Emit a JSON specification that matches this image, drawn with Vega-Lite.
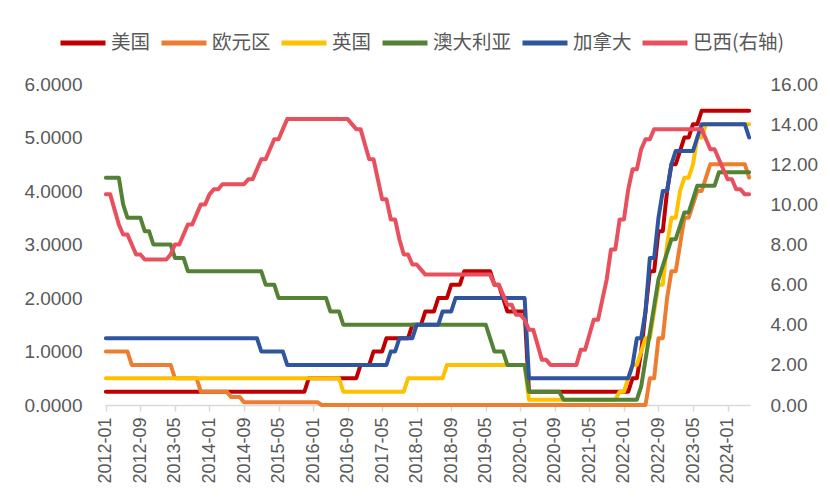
{
  "$schema": "https://vega.github.io/schema/vega-lite/v6.json",
  "width": 645,
  "height": 321,
  "autosize": "none",
  "padding": {"left": 105, "top": 84, "right": 80, "bottom": 98},
  "background": "white",
  "data": {
    "values": [
      {"m":"2012-01","US":0.25,"EU":1,"UK":0.5,"AU":4.25,"CA":1.25,"BR":10.5},
      {"m":"2012-02","US":0.25,"EU":1,"UK":0.5,"AU":4.25,"CA":1.25,"BR":10.5},
      {"m":"2012-03","US":0.25,"EU":1,"UK":0.5,"AU":4.25,"CA":1.25,"BR":9.75},
      {"m":"2012-04","US":0.25,"EU":1,"UK":0.5,"AU":4.25,"CA":1.25,"BR":9},
      {"m":"2012-05","US":0.25,"EU":1,"UK":0.5,"AU":3.75,"CA":1.25,"BR":8.5},
      {"m":"2012-06","US":0.25,"EU":1,"UK":0.5,"AU":3.5,"CA":1.25,"BR":8.5},
      {"m":"2012-07","US":0.25,"EU":0.75,"UK":0.5,"AU":3.5,"CA":1.25,"BR":8},
      {"m":"2012-08","US":0.25,"EU":0.75,"UK":0.5,"AU":3.5,"CA":1.25,"BR":7.5},
      {"m":"2012-09","US":0.25,"EU":0.75,"UK":0.5,"AU":3.5,"CA":1.25,"BR":7.5},
      {"m":"2012-10","US":0.25,"EU":0.75,"UK":0.5,"AU":3.25,"CA":1.25,"BR":7.25},
      {"m":"2012-11","US":0.25,"EU":0.75,"UK":0.5,"AU":3.25,"CA":1.25,"BR":7.25},
      {"m":"2012-12","US":0.25,"EU":0.75,"UK":0.5,"AU":3,"CA":1.25,"BR":7.25},
      {"m":"2013-01","US":0.25,"EU":0.75,"UK":0.5,"AU":3,"CA":1.25,"BR":7.25},
      {"m":"2013-02","US":0.25,"EU":0.75,"UK":0.5,"AU":3,"CA":1.25,"BR":7.25},
      {"m":"2013-03","US":0.25,"EU":0.75,"UK":0.5,"AU":3,"CA":1.25,"BR":7.25},
      {"m":"2013-04","US":0.25,"EU":0.75,"UK":0.5,"AU":3,"CA":1.25,"BR":7.5},
      {"m":"2013-05","US":0.25,"EU":0.5,"UK":0.5,"AU":2.75,"CA":1.25,"BR":8},
      {"m":"2013-06","US":0.25,"EU":0.5,"UK":0.5,"AU":2.75,"CA":1.25,"BR":8},
      {"m":"2013-07","US":0.25,"EU":0.5,"UK":0.5,"AU":2.75,"CA":1.25,"BR":8.5},
      {"m":"2013-08","US":0.25,"EU":0.5,"UK":0.5,"AU":2.5,"CA":1.25,"BR":9},
      {"m":"2013-09","US":0.25,"EU":0.5,"UK":0.5,"AU":2.5,"CA":1.25,"BR":9},
      {"m":"2013-10","US":0.25,"EU":0.5,"UK":0.5,"AU":2.5,"CA":1.25,"BR":9.5},
      {"m":"2013-11","US":0.25,"EU":0.25,"UK":0.5,"AU":2.5,"CA":1.25,"BR":10},
      {"m":"2013-12","US":0.25,"EU":0.25,"UK":0.5,"AU":2.5,"CA":1.25,"BR":10},
      {"m":"2014-01","US":0.25,"EU":0.25,"UK":0.5,"AU":2.5,"CA":1.25,"BR":10.5},
      {"m":"2014-02","US":0.25,"EU":0.25,"UK":0.5,"AU":2.5,"CA":1.25,"BR":10.75},
      {"m":"2014-03","US":0.25,"EU":0.25,"UK":0.5,"AU":2.5,"CA":1.25,"BR":10.75},
      {"m":"2014-04","US":0.25,"EU":0.25,"UK":0.5,"AU":2.5,"CA":1.25,"BR":11},
      {"m":"2014-05","US":0.25,"EU":0.25,"UK":0.5,"AU":2.5,"CA":1.25,"BR":11},
      {"m":"2014-06","US":0.25,"EU":0.15,"UK":0.5,"AU":2.5,"CA":1.25,"BR":11},
      {"m":"2014-07","US":0.25,"EU":0.15,"UK":0.5,"AU":2.5,"CA":1.25,"BR":11},
      {"m":"2014-08","US":0.25,"EU":0.15,"UK":0.5,"AU":2.5,"CA":1.25,"BR":11},
      {"m":"2014-09","US":0.25,"EU":0.05,"UK":0.5,"AU":2.5,"CA":1.25,"BR":11},
      {"m":"2014-10","US":0.25,"EU":0.05,"UK":0.5,"AU":2.5,"CA":1.25,"BR":11.25},
      {"m":"2014-11","US":0.25,"EU":0.05,"UK":0.5,"AU":2.5,"CA":1.25,"BR":11.25},
      {"m":"2014-12","US":0.25,"EU":0.05,"UK":0.5,"AU":2.5,"CA":1.25,"BR":11.75},
      {"m":"2015-01","US":0.25,"EU":0.05,"UK":0.5,"AU":2.5,"CA":1,"BR":12.25},
      {"m":"2015-02","US":0.25,"EU":0.05,"UK":0.5,"AU":2.25,"CA":1,"BR":12.25},
      {"m":"2015-03","US":0.25,"EU":0.05,"UK":0.5,"AU":2.25,"CA":1,"BR":12.75},
      {"m":"2015-04","US":0.25,"EU":0.05,"UK":0.5,"AU":2.25,"CA":1,"BR":13.25},
      {"m":"2015-05","US":0.25,"EU":0.05,"UK":0.5,"AU":2,"CA":1,"BR":13.25},
      {"m":"2015-06","US":0.25,"EU":0.05,"UK":0.5,"AU":2,"CA":1,"BR":13.75},
      {"m":"2015-07","US":0.25,"EU":0.05,"UK":0.5,"AU":2,"CA":0.75,"BR":14.25},
      {"m":"2015-08","US":0.25,"EU":0.05,"UK":0.5,"AU":2,"CA":0.75,"BR":14.25},
      {"m":"2015-09","US":0.25,"EU":0.05,"UK":0.5,"AU":2,"CA":0.75,"BR":14.25},
      {"m":"2015-10","US":0.25,"EU":0.05,"UK":0.5,"AU":2,"CA":0.75,"BR":14.25},
      {"m":"2015-11","US":0.25,"EU":0.05,"UK":0.5,"AU":2,"CA":0.75,"BR":14.25},
      {"m":"2015-12","US":0.5,"EU":0.05,"UK":0.5,"AU":2,"CA":0.75,"BR":14.25},
      {"m":"2016-01","US":0.5,"EU":0.05,"UK":0.5,"AU":2,"CA":0.75,"BR":14.25},
      {"m":"2016-02","US":0.5,"EU":0.05,"UK":0.5,"AU":2,"CA":0.75,"BR":14.25},
      {"m":"2016-03","US":0.5,"EU":0,"UK":0.5,"AU":2,"CA":0.75,"BR":14.25},
      {"m":"2016-04","US":0.5,"EU":0,"UK":0.5,"AU":2,"CA":0.75,"BR":14.25},
      {"m":"2016-05","US":0.5,"EU":0,"UK":0.5,"AU":1.75,"CA":0.75,"BR":14.25},
      {"m":"2016-06","US":0.5,"EU":0,"UK":0.5,"AU":1.75,"CA":0.75,"BR":14.25},
      {"m":"2016-07","US":0.5,"EU":0,"UK":0.5,"AU":1.75,"CA":0.75,"BR":14.25},
      {"m":"2016-08","US":0.5,"EU":0,"UK":0.25,"AU":1.5,"CA":0.75,"BR":14.25},
      {"m":"2016-09","US":0.5,"EU":0,"UK":0.25,"AU":1.5,"CA":0.75,"BR":14.25},
      {"m":"2016-10","US":0.5,"EU":0,"UK":0.25,"AU":1.5,"CA":0.75,"BR":14},
      {"m":"2016-11","US":0.5,"EU":0,"UK":0.25,"AU":1.5,"CA":0.75,"BR":13.75},
      {"m":"2016-12","US":0.75,"EU":0,"UK":0.25,"AU":1.5,"CA":0.75,"BR":13.75},
      {"m":"2017-01","US":0.75,"EU":0,"UK":0.25,"AU":1.5,"CA":0.75,"BR":13},
      {"m":"2017-02","US":0.75,"EU":0,"UK":0.25,"AU":1.5,"CA":0.75,"BR":12.25},
      {"m":"2017-03","US":1,"EU":0,"UK":0.25,"AU":1.5,"CA":0.75,"BR":12.25},
      {"m":"2017-04","US":1,"EU":0,"UK":0.25,"AU":1.5,"CA":0.75,"BR":11.25},
      {"m":"2017-05","US":1,"EU":0,"UK":0.25,"AU":1.5,"CA":0.75,"BR":10.25},
      {"m":"2017-06","US":1.25,"EU":0,"UK":0.25,"AU":1.5,"CA":0.75,"BR":10.25},
      {"m":"2017-07","US":1.25,"EU":0,"UK":0.25,"AU":1.5,"CA":1,"BR":9.25},
      {"m":"2017-08","US":1.25,"EU":0,"UK":0.25,"AU":1.5,"CA":1,"BR":9.25},
      {"m":"2017-09","US":1.25,"EU":0,"UK":0.25,"AU":1.5,"CA":1.25,"BR":8.25},
      {"m":"2017-10","US":1.25,"EU":0,"UK":0.25,"AU":1.5,"CA":1.25,"BR":7.5},
      {"m":"2017-11","US":1.25,"EU":0,"UK":0.5,"AU":1.5,"CA":1.25,"BR":7.5},
      {"m":"2017-12","US":1.5,"EU":0,"UK":0.5,"AU":1.5,"CA":1.25,"BR":7},
      {"m":"2018-01","US":1.5,"EU":0,"UK":0.5,"AU":1.5,"CA":1.5,"BR":7},
      {"m":"2018-02","US":1.5,"EU":0,"UK":0.5,"AU":1.5,"CA":1.5,"BR":6.75},
      {"m":"2018-03","US":1.75,"EU":0,"UK":0.5,"AU":1.5,"CA":1.5,"BR":6.5},
      {"m":"2018-04","US":1.75,"EU":0,"UK":0.5,"AU":1.5,"CA":1.5,"BR":6.5},
      {"m":"2018-05","US":1.75,"EU":0,"UK":0.5,"AU":1.5,"CA":1.5,"BR":6.5},
      {"m":"2018-06","US":2,"EU":0,"UK":0.5,"AU":1.5,"CA":1.5,"BR":6.5},
      {"m":"2018-07","US":2,"EU":0,"UK":0.5,"AU":1.5,"CA":1.75,"BR":6.5},
      {"m":"2018-08","US":2,"EU":0,"UK":0.75,"AU":1.5,"CA":1.75,"BR":6.5},
      {"m":"2018-09","US":2.25,"EU":0,"UK":0.75,"AU":1.5,"CA":1.75,"BR":6.5},
      {"m":"2018-10","US":2.25,"EU":0,"UK":0.75,"AU":1.5,"CA":2,"BR":6.5},
      {"m":"2018-11","US":2.25,"EU":0,"UK":0.75,"AU":1.5,"CA":2,"BR":6.5},
      {"m":"2018-12","US":2.5,"EU":0,"UK":0.75,"AU":1.5,"CA":2,"BR":6.5},
      {"m":"2019-01","US":2.5,"EU":0,"UK":0.75,"AU":1.5,"CA":2,"BR":6.5},
      {"m":"2019-02","US":2.5,"EU":0,"UK":0.75,"AU":1.5,"CA":2,"BR":6.5},
      {"m":"2019-03","US":2.5,"EU":0,"UK":0.75,"AU":1.5,"CA":2,"BR":6.5},
      {"m":"2019-04","US":2.5,"EU":0,"UK":0.75,"AU":1.5,"CA":2,"BR":6.5},
      {"m":"2019-05","US":2.5,"EU":0,"UK":0.75,"AU":1.5,"CA":2,"BR":6.5},
      {"m":"2019-06","US":2.5,"EU":0,"UK":0.75,"AU":1.25,"CA":2,"BR":6.5},
      {"m":"2019-07","US":2.25,"EU":0,"UK":0.75,"AU":1,"CA":2,"BR":6},
      {"m":"2019-08","US":2.25,"EU":0,"UK":0.75,"AU":1,"CA":2,"BR":6},
      {"m":"2019-09","US":2,"EU":0,"UK":0.75,"AU":1,"CA":2,"BR":5.5},
      {"m":"2019-10","US":1.75,"EU":0,"UK":0.75,"AU":0.75,"CA":2,"BR":5},
      {"m":"2019-11","US":1.75,"EU":0,"UK":0.75,"AU":0.75,"CA":2,"BR":5},
      {"m":"2019-12","US":1.75,"EU":0,"UK":0.75,"AU":0.75,"CA":2,"BR":4.5},
      {"m":"2020-01","US":1.75,"EU":0,"UK":0.75,"AU":0.75,"CA":2,"BR":4.5},
      {"m":"2020-02","US":1.75,"EU":0,"UK":0.75,"AU":0.75,"CA":2,"BR":4.25},
      {"m":"2020-03","US":0.25,"EU":0,"UK":0.1,"AU":0.25,"CA":0.5,"BR":3.75},
      {"m":"2020-04","US":0.25,"EU":0,"UK":0.1,"AU":0.25,"CA":0.5,"BR":3.75},
      {"m":"2020-05","US":0.25,"EU":0,"UK":0.1,"AU":0.25,"CA":0.5,"BR":3},
      {"m":"2020-06","US":0.25,"EU":0,"UK":0.1,"AU":0.25,"CA":0.5,"BR":2.25},
      {"m":"2020-07","US":0.25,"EU":0,"UK":0.1,"AU":0.25,"CA":0.5,"BR":2.25},
      {"m":"2020-08","US":0.25,"EU":0,"UK":0.1,"AU":0.25,"CA":0.5,"BR":2},
      {"m":"2020-09","US":0.25,"EU":0,"UK":0.1,"AU":0.25,"CA":0.5,"BR":2},
      {"m":"2020-10","US":0.25,"EU":0,"UK":0.1,"AU":0.25,"CA":0.5,"BR":2},
      {"m":"2020-11","US":0.25,"EU":0,"UK":0.1,"AU":0.1,"CA":0.5,"BR":2},
      {"m":"2020-12","US":0.25,"EU":0,"UK":0.1,"AU":0.1,"CA":0.5,"BR":2},
      {"m":"2021-01","US":0.25,"EU":0,"UK":0.1,"AU":0.1,"CA":0.5,"BR":2},
      {"m":"2021-02","US":0.25,"EU":0,"UK":0.1,"AU":0.1,"CA":0.5,"BR":2},
      {"m":"2021-03","US":0.25,"EU":0,"UK":0.1,"AU":0.1,"CA":0.5,"BR":2.75},
      {"m":"2021-04","US":0.25,"EU":0,"UK":0.1,"AU":0.1,"CA":0.5,"BR":2.75},
      {"m":"2021-05","US":0.25,"EU":0,"UK":0.1,"AU":0.1,"CA":0.5,"BR":3.5},
      {"m":"2021-06","US":0.25,"EU":0,"UK":0.1,"AU":0.1,"CA":0.5,"BR":4.25},
      {"m":"2021-07","US":0.25,"EU":0,"UK":0.1,"AU":0.1,"CA":0.5,"BR":4.25},
      {"m":"2021-08","US":0.25,"EU":0,"UK":0.1,"AU":0.1,"CA":0.5,"BR":5.25},
      {"m":"2021-09","US":0.25,"EU":0,"UK":0.1,"AU":0.1,"CA":0.5,"BR":6.25},
      {"m":"2021-10","US":0.25,"EU":0,"UK":0.1,"AU":0.1,"CA":0.5,"BR":7.75},
      {"m":"2021-11","US":0.25,"EU":0,"UK":0.1,"AU":0.1,"CA":0.5,"BR":7.75},
      {"m":"2021-12","US":0.25,"EU":0,"UK":0.25,"AU":0.1,"CA":0.5,"BR":9.25},
      {"m":"2022-01","US":0.25,"EU":0,"UK":0.25,"AU":0.1,"CA":0.5,"BR":9.25},
      {"m":"2022-02","US":0.25,"EU":0,"UK":0.5,"AU":0.1,"CA":0.5,"BR":10.75},
      {"m":"2022-03","US":0.5,"EU":0,"UK":0.75,"AU":0.1,"CA":0.75,"BR":11.75},
      {"m":"2022-04","US":0.5,"EU":0,"UK":0.75,"AU":0.1,"CA":1.25,"BR":11.75},
      {"m":"2022-05","US":1,"EU":0,"UK":1,"AU":0.35,"CA":1.25,"BR":12.75},
      {"m":"2022-06","US":1.75,"EU":0,"UK":1.25,"AU":0.85,"CA":1.75,"BR":13.25},
      {"m":"2022-07","US":2.5,"EU":0.5,"UK":1.25,"AU":1.35,"CA":2.75,"BR":13.25},
      {"m":"2022-08","US":2.5,"EU":0.5,"UK":1.75,"AU":1.85,"CA":2.75,"BR":13.75},
      {"m":"2022-09","US":3.25,"EU":1.25,"UK":2.25,"AU":2.35,"CA":3.5,"BR":13.75},
      {"m":"2022-10","US":3.25,"EU":1.25,"UK":2.25,"AU":2.6,"CA":4,"BR":13.75},
      {"m":"2022-11","US":4,"EU":2,"UK":3,"AU":2.85,"CA":4,"BR":13.75},
      {"m":"2022-12","US":4.5,"EU":2.5,"UK":3.5,"AU":3.1,"CA":4.5,"BR":13.75},
      {"m":"2023-01","US":4.5,"EU":2.5,"UK":3.5,"AU":3.1,"CA":4.75,"BR":13.75},
      {"m":"2023-02","US":4.75,"EU":3,"UK":4,"AU":3.35,"CA":4.75,"BR":13.75},
      {"m":"2023-03","US":5,"EU":3.5,"UK":4.25,"AU":3.6,"CA":4.75,"BR":13.75},
      {"m":"2023-04","US":5,"EU":3.5,"UK":4.25,"AU":3.6,"CA":4.75,"BR":13.75},
      {"m":"2023-05","US":5.25,"EU":3.75,"UK":4.5,"AU":3.85,"CA":4.75,"BR":13.75},
      {"m":"2023-06","US":5.25,"EU":4,"UK":5,"AU":4.1,"CA":5,"BR":13.75},
      {"m":"2023-07","US":5.5,"EU":4,"UK":5,"AU":4.1,"CA":5.25,"BR":13.75},
      {"m":"2023-08","US":5.5,"EU":4.25,"UK":5.25,"AU":4.1,"CA":5.25,"BR":13.25},
      {"m":"2023-09","US":5.5,"EU":4.5,"UK":5.25,"AU":4.1,"CA":5.25,"BR":12.75},
      {"m":"2023-10","US":5.5,"EU":4.5,"UK":5.25,"AU":4.1,"CA":5.25,"BR":12.75},
      {"m":"2023-11","US":5.5,"EU":4.5,"UK":5.25,"AU":4.35,"CA":5.25,"BR":12.25},
      {"m":"2023-12","US":5.5,"EU":4.5,"UK":5.25,"AU":4.35,"CA":5.25,"BR":11.75},
      {"m":"2024-01","US":5.5,"EU":4.5,"UK":5.25,"AU":4.35,"CA":5.25,"BR":11.25},
      {"m":"2024-02","US":5.5,"EU":4.5,"UK":5.25,"AU":4.35,"CA":5.25,"BR":11.25},
      {"m":"2024-03","US":5.5,"EU":4.5,"UK":5.25,"AU":4.35,"CA":5.25,"BR":10.75},
      {"m":"2024-04","US":5.5,"EU":4.5,"UK":5.25,"AU":4.35,"CA":5.25,"BR":10.75},
      {"m":"2024-05","US":5.5,"EU":4.5,"UK":5.25,"AU":4.35,"CA":5.25,"BR":10.5},
      {"m":"2024-06","US":5.5,"EU":4.25,"UK":5.25,"AU":4.35,"CA":5,"BR":10.5}
    ]
  },
  "layer": [
    {
      "transform": [{"fold": ["US", "EU", "UK", "AU", "CA"], "as": ["series", "value"]}],
      "mark": {"type": "line", "strokeWidth": 4, "strokeJoin": "round", "strokeCap": "round"},
      "encoding": {
        "x": {
          "field": "m", "type": "ordinal",
          "scale": {"type": "point", "padding": 0.2},
          "axis": {
            "title": null,
            "values": ["2012-01","2012-09","2013-05","2014-01","2014-09","2015-05","2016-01","2016-09","2017-05","2018-01","2018-09","2019-05","2020-01","2020-09","2021-05","2022-01","2022-09","2023-05","2024-01"],
            "labelAngle": -90, "labelAlign": "right", "labelBaseline": "middle",
            "labelFont": "Liberation Sans", "labelFontSize": 18, "labelColor": "#595959",
            "labelPadding": 6, "domainColor": "#D9D9D9", "domainWidth": 1.5,
            "tickColor": "#D9D9D9", "tickWidth": 1.5, "tickSize": 6, "grid": false
          }
        },
        "y": {
          "field": "value", "type": "quantitative",
          "scale": {"domain": [0, 6], "nice": false},
          "axis": {
            "orient": "left", "title": null, "values": [0,1,2,3,4,5,6], "format": ".4f",
            "domain": false, "ticks": false, "grid": false, "labelPadding": 23,
            "labelFont": "Liberation Sans", "labelFontSize": 19, "labelColor": "#595959"
          }
        },
        "color": {
          "field": "series", "type": "nominal",
          "scale": {"domain": ["US","EU","UK","AU","CA","BR"], "range": ["#C00000","#ED7D31","#FFC000","#548235","#2F55A0","#E8505E"]},
          "legend": {
            "title": null, "orient": "none", "direction": "horizontal",
            "legendX": -47, "legendY": -66,
            "symbolType": "stroke", "symbolSize": 2025, "symbolStrokeWidth": 5,
            "labelFont": "Noto Sans CJK SC", "labelFontSize": 19.5, "labelColor": "#595959",
            "labelOffset": 3, "columnPadding": 0,
            "labelExpr": "{'US':'美国','EU':'欧元区','UK':'英国','AU':'澳大利亚','CA':'加拿大','BR':'巴西(右轴)'}[datum.label]"
          }
        }
      }
    },
    {
      "transform": [{"fold": ["BR"], "as": ["series", "value"]}],
      "mark": {"type": "line", "strokeWidth": 4, "strokeJoin": "round", "strokeCap": "round"},
      "encoding": {
        "x": {"field": "m", "type": "ordinal", "scale": {"type": "point", "padding": 0.2}},
        "y": {
          "field": "value", "type": "quantitative",
          "scale": {"domain": [0, 16], "nice": false},
          "axis": {
            "orient": "right", "title": null, "values": [0,2,4,6,8,10,12,14,16], "format": ".2f",
            "domain": false, "ticks": false, "grid": false, "labelPadding": 20,
            "labelFont": "Liberation Sans", "labelFontSize": 19, "labelColor": "#595959"
          }
        },
        "color": {"field": "series", "type": "nominal"}
      }
    }
  ],
  "resolve": {"scale": {"y": "independent"}, "axis": {"y": "independent"}},
  "config": {"view": {"stroke": null}}
}
